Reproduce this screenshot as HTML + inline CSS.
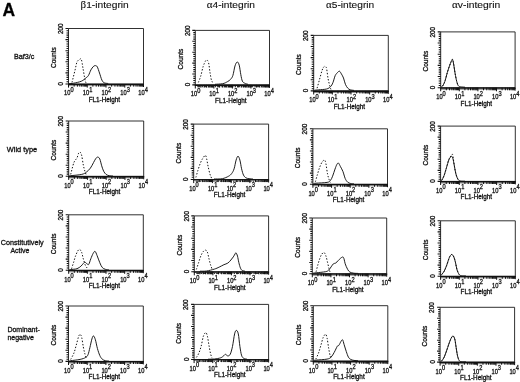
<!DOCTYPE html>
<html><head><meta charset="utf-8"><title>Figure A</title>
<style>html,body{margin:0;padding:0;background:#fff}body{width:520px;height:382px;overflow:hidden}svg{display:block}</style>
</head><body>
<svg width="520" height="382" viewBox="0 0 520 382" font-family='"Liberation Sans", sans-serif' fill="#111" stroke="#111" stroke-width="0.3" stroke-linejoin="round">
<rect x="0" y="0" width="520" height="382" fill="#fff" stroke="none"/>
<text x="2.5" y="15.7" font-size="18" font-weight="bold" fill="#000" textLength="12.6" lengthAdjust="spacingAndGlyphs">A</text>
<text x="80.6" y="8" font-size="9.9" stroke-width="0.12" textLength="48.2" lengthAdjust="spacingAndGlyphs"><tspan font-family="'Liberation Serif', 'DejaVu Serif', serif" font-size="10.6">β</tspan>1-integrin</text>
<text x="206.8" y="8" font-size="9.9" stroke-width="0.12" textLength="48.2" lengthAdjust="spacingAndGlyphs"><tspan font-family="'Liberation Serif', 'DejaVu Serif', serif" font-size="10.6">α</tspan>4-integrin</text>
<text x="326.0" y="8" font-size="9.9" stroke-width="0.12" textLength="48.2" lengthAdjust="spacingAndGlyphs"><tspan font-family="'Liberation Serif', 'DejaVu Serif', serif" font-size="10.6">α</tspan>5-integrin</text>
<text x="452.0" y="8" font-size="9.9" stroke-width="0.12" textLength="48.2" lengthAdjust="spacingAndGlyphs"><tspan font-family="'Liberation Serif', 'DejaVu Serif', serif" font-size="10.6">α</tspan>v-integrin</text>
<text x="14" y="58.8" font-size="7.2" textLength="20.4" lengthAdjust="spacingAndGlyphs">Baf3/c</text>
<text x="6.8" y="152.1" font-size="7.3" textLength="30.4" lengthAdjust="spacingAndGlyphs">Wild type</text>
<text x="0.8" y="245.3" font-size="7.2" textLength="42.8" lengthAdjust="spacingAndGlyphs">Constitutively</text>
<text x="10.4" y="252.8" font-size="7.2" textLength="19" lengthAdjust="spacingAndGlyphs">Active</text>
<text x="7.4" y="331.5" font-size="7.2" textLength="32.4" lengthAdjust="spacingAndGlyphs">Dominant-</text>
<text x="7.4" y="339.6" font-size="7.2" textLength="26.6" lengthAdjust="spacingAndGlyphs">negative</text>
<g>
<rect x="68.50" y="28.50" width="75.00" height="55.50" fill="none" stroke="#1a1a1a" stroke-width="0.9"/>
<path d="M68.50 28.50h-3.0M68.50 30.72h-2.0M68.50 32.94h-2.0M68.50 35.16h-2.0M68.50 37.38h-2.0M68.50 39.60h-3.0M68.50 41.82h-2.0M68.50 44.04h-2.0M68.50 46.26h-2.0M68.50 48.48h-2.0M68.50 50.70h-3.0M68.50 52.92h-2.0M68.50 55.14h-2.0M68.50 57.36h-2.0M68.50 59.58h-2.0M68.50 61.80h-3.0M68.50 64.02h-2.0M68.50 66.24h-2.0M68.50 68.46h-2.0M68.50 70.68h-2.0M68.50 72.90h-3.0M68.50 75.12h-2.0M68.50 77.34h-2.0M68.50 79.56h-2.0M68.50 81.78h-2.0M68.50 84.00h-3.0" stroke="#111" stroke-width="1.1" fill="none"/>
<path d="M68.50 84.00v3.6M74.14 84.00v2.6M77.45 84.00v2.6M79.79 84.00v2.6M81.61 84.00v2.6M83.09 84.00v2.6M84.35 84.00v2.6M85.43 84.00v2.6M86.39 84.00v2.6M87.25 84.00v3.6M92.89 84.00v2.6M96.20 84.00v2.6M98.54 84.00v2.6M100.36 84.00v2.6M101.84 84.00v2.6M103.10 84.00v2.6M104.18 84.00v2.6M105.14 84.00v2.6M106.00 84.00v3.6M111.64 84.00v2.6M114.95 84.00v2.6M117.29 84.00v2.6M119.11 84.00v2.6M120.59 84.00v2.6M121.85 84.00v2.6M122.93 84.00v2.6M123.89 84.00v2.6M124.75 84.00v3.6M130.39 84.00v2.6M133.70 84.00v2.6M136.04 84.00v2.6M137.86 84.00v2.6M139.34 84.00v2.6M140.60 84.00v2.6M141.68 84.00v2.6M142.64 84.00v2.6M143.50 84.00v3.0" stroke="#111" stroke-width="1.0" fill="none"/>
<path d="M68.00 84.40H144.00" stroke="#111" stroke-width="1.4" fill="none"/>
<path d="M68.50 85.60H143.50" stroke="#111" stroke-width="1.0" stroke-opacity="0.45" fill="none"/>
<path d="M72.00 82.40 C72.52 80.32 74.27 73.30 75.10 69.90 C75.93 66.50 76.20 63.78 77.00 62.00 C77.80 60.22 79.17 59.60 79.90 59.20 C80.63 58.80 80.88 58.08 81.40 59.60 C81.92 61.12 82.42 65.02 83.00 68.30 C83.58 71.58 84.40 76.85 84.90 79.30 C85.40 81.75 85.82 82.38 86.00 83.00" stroke="#111" stroke-width="1.0" fill="none" stroke-dasharray="1.4 1.7"/>
<path d="M69.00 83.60 C69.77 83.53 71.53 83.60 73.60 83.20 C75.67 82.80 79.30 82.12 81.40 81.20 C83.50 80.28 85.02 78.67 86.20 77.70 C87.38 76.73 87.72 76.70 88.50 75.40 C89.28 74.10 90.12 71.35 90.90 69.90 C91.68 68.45 92.50 67.42 93.20 66.70 C93.90 65.98 94.43 65.60 95.10 65.60 C95.77 65.60 96.47 65.47 97.20 66.70 C97.93 67.93 98.72 70.77 99.50 73.00 C100.28 75.23 101.12 78.47 101.90 80.10 C102.68 81.73 103.15 82.23 104.20 82.80 C105.25 83.37 107.53 83.38 108.20 83.50" stroke="#111" stroke-width="0.95" fill="none" stroke-linejoin="round"/>
<text transform="translate(62.70 28.80) rotate(-90)" text-anchor="middle" font-size="6.9" textLength="10.6" lengthAdjust="spacingAndGlyphs">200</text>
<text transform="translate(62.90 83.70) rotate(-90)" text-anchor="middle" font-size="6.9" textLength="3.5" lengthAdjust="spacingAndGlyphs">0</text>
<text transform="translate(55.80 57.65) rotate(-90)" text-anchor="middle" font-size="7.2" textLength="20.8" lengthAdjust="spacingAndGlyphs">Counts</text>
<text transform="translate(64.00 95.40) scale(0.87 1)" font-size="6.6">10<tspan dy="-3.6" font-size="6.5">0</tspan></text>
<text transform="translate(82.75 95.40) scale(0.87 1)" font-size="6.6">10<tspan dy="-3.6" font-size="6.5">1</tspan></text>
<text transform="translate(101.50 95.40) scale(0.87 1)" font-size="6.6">10<tspan dy="-3.6" font-size="6.5">2</tspan></text>
<text transform="translate(120.25 95.40) scale(0.87 1)" font-size="6.6">10<tspan dy="-3.6" font-size="6.5">3</tspan></text>
<text transform="translate(138.30 95.40) scale(0.87 1)" font-size="6.6">10<tspan dy="-3.6" font-size="6.5">4</tspan></text>
<text x="104.40" y="101.90" text-anchor="middle" font-size="6.6" textLength="31.5" lengthAdjust="spacingAndGlyphs">FL1-Height</text>
</g>
<g>
<rect x="195.30" y="30.40" width="74.20" height="54.50" fill="none" stroke="#1a1a1a" stroke-width="0.9"/>
<path d="M195.30 30.40h-3.0M195.30 32.58h-2.0M195.30 34.76h-2.0M195.30 36.94h-2.0M195.30 39.12h-2.0M195.30 41.30h-3.0M195.30 43.48h-2.0M195.30 45.66h-2.0M195.30 47.84h-2.0M195.30 50.02h-2.0M195.30 52.20h-3.0M195.30 54.38h-2.0M195.30 56.56h-2.0M195.30 58.74h-2.0M195.30 60.92h-2.0M195.30 63.10h-3.0M195.30 65.28h-2.0M195.30 67.46h-2.0M195.30 69.64h-2.0M195.30 71.82h-2.0M195.30 74.00h-3.0M195.30 76.18h-2.0M195.30 78.36h-2.0M195.30 80.54h-2.0M195.30 82.72h-2.0M195.30 84.90h-3.0" stroke="#111" stroke-width="1.1" fill="none"/>
<path d="M195.30 84.90v3.6M200.88 84.90v2.6M204.15 84.90v2.6M206.47 84.90v2.6M208.27 84.90v2.6M209.73 84.90v2.6M210.98 84.90v2.6M212.05 84.90v2.6M213.00 84.90v2.6M213.85 84.90v3.6M219.43 84.90v2.6M222.70 84.90v2.6M225.02 84.90v2.6M226.82 84.90v2.6M228.28 84.90v2.6M229.53 84.90v2.6M230.60 84.90v2.6M231.55 84.90v2.6M232.40 84.90v3.6M237.98 84.90v2.6M241.25 84.90v2.6M243.57 84.90v2.6M245.37 84.90v2.6M246.83 84.90v2.6M248.08 84.90v2.6M249.15 84.90v2.6M250.10 84.90v2.6M250.95 84.90v3.6M256.53 84.90v2.6M259.80 84.90v2.6M262.12 84.90v2.6M263.92 84.90v2.6M265.38 84.90v2.6M266.63 84.90v2.6M267.70 84.90v2.6M268.65 84.90v2.6M269.50 84.90v3.0" stroke="#111" stroke-width="1.0" fill="none"/>
<path d="M194.80 85.30H270.00" stroke="#111" stroke-width="1.4" fill="none"/>
<path d="M197.30 86.60H269.50" stroke="#111" stroke-width="1.1" stroke-opacity="0.85" stroke-dasharray="3.2 1.1 1.4 0.9" fill="none"/>
<path d="M198.40 82.40 C198.78 81.37 199.92 78.82 200.70 76.20 C201.48 73.58 202.32 69.20 203.10 66.70 C203.88 64.20 204.75 62.30 205.40 61.20 C206.05 60.10 206.47 59.83 207.00 60.10 C207.53 60.37 208.08 60.65 208.60 62.80 C209.12 64.95 209.58 69.98 210.10 73.00 C210.62 76.02 211.03 79.20 211.70 80.90 C212.37 82.60 213.70 82.82 214.10 83.20" stroke="#111" stroke-width="1.0" fill="none" stroke-dasharray="1.4 1.7"/>
<path d="M215.00 84.30 C216.28 84.20 220.63 84.13 222.70 83.70 C224.77 83.27 226.08 82.43 227.40 81.70 C228.72 80.97 229.68 80.35 230.60 79.30 C231.52 78.25 232.17 77.63 232.90 75.40 C233.63 73.17 234.28 68.13 235.00 65.90 C235.72 63.67 236.50 62.13 237.20 62.00 C237.90 61.87 238.60 63.00 239.20 65.10 C239.80 67.20 240.27 71.92 240.80 74.60 C241.33 77.28 241.75 79.77 242.40 81.20 C243.05 82.63 243.77 82.68 244.70 83.20 C245.63 83.72 247.45 84.12 248.00 84.30" stroke="#111" stroke-width="0.95" fill="none" stroke-linejoin="round"/>
<text transform="translate(189.50 30.70) rotate(-90)" text-anchor="middle" font-size="6.9" textLength="10.6" lengthAdjust="spacingAndGlyphs">200</text>
<text transform="translate(189.70 84.60) rotate(-90)" text-anchor="middle" font-size="6.9" textLength="3.5" lengthAdjust="spacingAndGlyphs">0</text>
<text transform="translate(182.60 59.05) rotate(-90)" text-anchor="middle" font-size="7.2" textLength="20.8" lengthAdjust="spacingAndGlyphs">Counts</text>
<text transform="translate(190.80 96.30) scale(0.87 1)" font-size="6.6">10<tspan dy="-3.6" font-size="6.5">0</tspan></text>
<text transform="translate(209.35 96.30) scale(0.87 1)" font-size="6.6">10<tspan dy="-3.6" font-size="6.5">1</tspan></text>
<text transform="translate(227.90 96.30) scale(0.87 1)" font-size="6.6">10<tspan dy="-3.6" font-size="6.5">2</tspan></text>
<text transform="translate(246.45 96.30) scale(0.87 1)" font-size="6.6">10<tspan dy="-3.6" font-size="6.5">3</tspan></text>
<text transform="translate(264.30 96.30) scale(0.87 1)" font-size="6.6">10<tspan dy="-3.6" font-size="6.5">4</tspan></text>
<text x="230.80" y="102.80" text-anchor="middle" font-size="6.6" textLength="31.5" lengthAdjust="spacingAndGlyphs">FL1-Height</text>
</g>
<g>
<rect x="313.70" y="35.40" width="74.60" height="55.50" fill="none" stroke="#1a1a1a" stroke-width="0.9"/>
<path d="M313.70 35.40h-3.0M313.70 37.62h-2.0M313.70 39.84h-2.0M313.70 42.06h-2.0M313.70 44.28h-2.0M313.70 46.50h-3.0M313.70 48.72h-2.0M313.70 50.94h-2.0M313.70 53.16h-2.0M313.70 55.38h-2.0M313.70 57.60h-3.0M313.70 59.82h-2.0M313.70 62.04h-2.0M313.70 64.26h-2.0M313.70 66.48h-2.0M313.70 68.70h-3.0M313.70 70.92h-2.0M313.70 73.14h-2.0M313.70 75.36h-2.0M313.70 77.58h-2.0M313.70 79.80h-3.0M313.70 82.02h-2.0M313.70 84.24h-2.0M313.70 86.46h-2.0M313.70 88.68h-2.0M313.70 90.90h-3.0" stroke="#111" stroke-width="1.1" fill="none"/>
<path d="M313.70 90.90v3.6M319.31 90.90v2.6M322.60 90.90v2.6M324.93 90.90v2.6M326.74 90.90v2.6M328.21 90.90v2.6M329.46 90.90v2.6M330.54 90.90v2.6M331.50 90.90v2.6M332.35 90.90v3.6M337.96 90.90v2.6M341.25 90.90v2.6M343.58 90.90v2.6M345.39 90.90v2.6M346.86 90.90v2.6M348.11 90.90v2.6M349.19 90.90v2.6M350.15 90.90v2.6M351.00 90.90v3.6M356.61 90.90v2.6M359.90 90.90v2.6M362.23 90.90v2.6M364.04 90.90v2.6M365.51 90.90v2.6M366.76 90.90v2.6M367.84 90.90v2.6M368.80 90.90v2.6M369.65 90.90v3.6M375.26 90.90v2.6M378.55 90.90v2.6M380.88 90.90v2.6M382.69 90.90v2.6M384.16 90.90v2.6M385.41 90.90v2.6M386.49 90.90v2.6M387.45 90.90v2.6M388.30 90.90v3.0" stroke="#111" stroke-width="1.0" fill="none"/>
<path d="M313.20 91.30H388.80" stroke="#111" stroke-width="1.4" fill="none"/>
<path d="M313.70 92.50H388.30" stroke="#111" stroke-width="1.0" stroke-opacity="0.45" fill="none"/>
<path d="M317.10 88.20 C317.50 86.77 318.70 82.48 319.50 79.60 C320.30 76.72 321.20 73.00 321.90 70.90 C322.60 68.80 323.13 67.73 323.70 67.00 C324.27 66.27 324.82 66.23 325.30 66.50 C325.78 66.77 326.13 66.55 326.60 68.60 C327.07 70.65 327.53 75.78 328.10 78.80 C328.67 81.82 329.52 84.92 330.00 86.70 C330.48 88.48 330.83 89.03 331.00 89.50" stroke="#111" stroke-width="1.0" fill="none" stroke-dasharray="1.4 1.7"/>
<path d="M314.50 90.20 C315.20 90.13 316.68 90.00 318.70 89.80 C320.72 89.60 324.63 89.52 326.60 89.00 C328.57 88.48 329.45 87.75 330.50 86.70 C331.55 85.65 332.12 84.55 332.90 82.70 C333.68 80.85 334.42 77.30 335.20 75.60 C335.98 73.90 336.88 73.23 337.60 72.50 C338.32 71.77 338.85 70.93 339.50 71.20 C340.15 71.47 340.83 72.97 341.50 74.10 C342.17 75.23 342.85 76.30 343.50 78.00 C344.15 79.70 344.68 82.60 345.40 84.30 C346.12 86.00 347.00 87.28 347.80 88.20 C348.60 89.12 349.17 89.43 350.20 89.80 C351.23 90.17 353.37 90.30 354.00 90.40" stroke="#111" stroke-width="0.95" fill="none" stroke-linejoin="round"/>
<text transform="translate(307.90 35.70) rotate(-90)" text-anchor="middle" font-size="6.9" textLength="10.6" lengthAdjust="spacingAndGlyphs">200</text>
<text transform="translate(308.10 90.60) rotate(-90)" text-anchor="middle" font-size="6.9" textLength="3.5" lengthAdjust="spacingAndGlyphs">0</text>
<text transform="translate(301.00 64.55) rotate(-90)" text-anchor="middle" font-size="7.2" textLength="20.8" lengthAdjust="spacingAndGlyphs">Counts</text>
<text transform="translate(309.20 102.30) scale(0.87 1)" font-size="6.6">10<tspan dy="-3.6" font-size="6.5">0</tspan></text>
<text transform="translate(327.85 102.30) scale(0.87 1)" font-size="6.6">10<tspan dy="-3.6" font-size="6.5">1</tspan></text>
<text transform="translate(346.50 102.30) scale(0.87 1)" font-size="6.6">10<tspan dy="-3.6" font-size="6.5">2</tspan></text>
<text transform="translate(365.15 102.30) scale(0.87 1)" font-size="6.6">10<tspan dy="-3.6" font-size="6.5">3</tspan></text>
<text transform="translate(383.10 102.30) scale(0.87 1)" font-size="6.6">10<tspan dy="-3.6" font-size="6.5">4</tspan></text>
<text x="349.40" y="108.80" text-anchor="middle" font-size="6.6" textLength="31.5" lengthAdjust="spacingAndGlyphs">FL1-Height</text>
</g>
<g>
<rect x="440.70" y="31.90" width="74.40" height="55.80" fill="none" stroke="#1a1a1a" stroke-width="0.9"/>
<path d="M440.70 31.90h-3.0M440.70 34.13h-2.0M440.70 36.36h-2.0M440.70 38.60h-2.0M440.70 40.83h-2.0M440.70 43.06h-3.0M440.70 45.29h-2.0M440.70 47.52h-2.0M440.70 49.76h-2.0M440.70 51.99h-2.0M440.70 54.22h-3.0M440.70 56.45h-2.0M440.70 58.68h-2.0M440.70 60.92h-2.0M440.70 63.15h-2.0M440.70 65.38h-3.0M440.70 67.61h-2.0M440.70 69.84h-2.0M440.70 72.08h-2.0M440.70 74.31h-2.0M440.70 76.54h-3.0M440.70 78.77h-2.0M440.70 81.00h-2.0M440.70 83.24h-2.0M440.70 85.47h-2.0M440.70 87.70h-3.0" stroke="#111" stroke-width="1.1" fill="none"/>
<path d="M440.70 87.70v3.6M446.30 87.70v2.6M449.57 87.70v2.6M451.90 87.70v2.6M453.70 87.70v2.6M455.17 87.70v2.6M456.42 87.70v2.6M457.50 87.70v2.6M458.45 87.70v2.6M459.30 87.70v3.6M464.90 87.70v2.6M468.17 87.70v2.6M470.50 87.70v2.6M472.30 87.70v2.6M473.77 87.70v2.6M475.02 87.70v2.6M476.10 87.70v2.6M477.05 87.70v2.6M477.90 87.70v3.6M483.50 87.70v2.6M486.77 87.70v2.6M489.10 87.70v2.6M490.90 87.70v2.6M492.37 87.70v2.6M493.62 87.70v2.6M494.70 87.70v2.6M495.65 87.70v2.6M496.50 87.70v3.6M502.10 87.70v2.6M505.37 87.70v2.6M507.70 87.70v2.6M509.50 87.70v2.6M510.97 87.70v2.6M512.22 87.70v2.6M513.30 87.70v2.6M514.25 87.70v2.6M515.10 87.70v3.0" stroke="#111" stroke-width="1.0" fill="none"/>
<path d="M440.20 88.10H515.60" stroke="#111" stroke-width="1.4" fill="none"/>
<path d="M440.70 89.30H515.10" stroke="#111" stroke-width="1.0" stroke-opacity="0.45" fill="none"/>
<path d="M442.60 86.00 C442.98 85.22 444.12 83.53 444.90 81.30 C445.68 79.07 446.52 75.22 447.30 72.60 C448.08 69.98 448.95 67.43 449.60 65.60 C450.25 63.77 450.72 62.67 451.20 61.60 C451.68 60.53 452.10 58.88 452.50 59.20 C452.90 59.52 453.17 61.13 453.60 63.50 C454.03 65.87 454.58 70.43 455.10 73.40 C455.62 76.37 456.17 79.25 456.70 81.30 C457.23 83.35 458.03 84.97 458.30 85.70" stroke="#111" stroke-width="1.0" fill="none" stroke-dasharray="1.4 1.7"/>
<path d="M441.20 87.00 C441.43 86.83 441.98 86.95 442.60 86.00 C443.22 85.05 444.12 83.53 444.90 81.30 C445.68 79.07 446.52 75.22 447.30 72.60 C448.08 69.98 448.95 67.43 449.60 65.60 C450.25 63.77 450.72 62.60 451.20 61.60 C451.68 60.60 452.10 59.20 452.50 59.60 C452.90 60.00 453.17 61.70 453.60 64.00 C454.03 66.30 454.58 70.52 455.10 73.40 C455.62 76.28 456.17 79.25 456.70 81.30 C457.23 83.35 457.65 84.78 458.30 85.70 C458.95 86.62 459.48 86.55 460.60 86.80 C461.72 87.05 464.27 87.13 465.00 87.20" stroke="#111" stroke-width="0.95" fill="none" stroke-linejoin="round"/>
<text transform="translate(434.90 32.20) rotate(-90)" text-anchor="middle" font-size="6.9" textLength="10.6" lengthAdjust="spacingAndGlyphs">200</text>
<text transform="translate(435.10 87.40) rotate(-90)" text-anchor="middle" font-size="6.9" textLength="3.5" lengthAdjust="spacingAndGlyphs">0</text>
<text transform="translate(428.00 61.20) rotate(-90)" text-anchor="middle" font-size="7.2" textLength="20.8" lengthAdjust="spacingAndGlyphs">Counts</text>
<text transform="translate(436.20 99.10) scale(0.87 1)" font-size="6.6">10<tspan dy="-3.6" font-size="6.5">0</tspan></text>
<text transform="translate(454.80 99.10) scale(0.87 1)" font-size="6.6">10<tspan dy="-3.6" font-size="6.5">1</tspan></text>
<text transform="translate(473.40 99.10) scale(0.87 1)" font-size="6.6">10<tspan dy="-3.6" font-size="6.5">2</tspan></text>
<text transform="translate(492.00 99.10) scale(0.87 1)" font-size="6.6">10<tspan dy="-3.6" font-size="6.5">3</tspan></text>
<text transform="translate(509.90 99.10) scale(0.87 1)" font-size="6.6">10<tspan dy="-3.6" font-size="6.5">4</tspan></text>
<text x="476.30" y="105.60" text-anchor="middle" font-size="6.6" textLength="31.5" lengthAdjust="spacingAndGlyphs">FL1-Height</text>
</g>
<g>
<rect x="68.70" y="121.00" width="75.00" height="55.30" fill="none" stroke="#1a1a1a" stroke-width="0.9"/>
<path d="M68.70 121.00h-3.0M68.70 123.21h-2.0M68.70 125.42h-2.0M68.70 127.64h-2.0M68.70 129.85h-2.0M68.70 132.06h-3.0M68.70 134.27h-2.0M68.70 136.48h-2.0M68.70 138.70h-2.0M68.70 140.91h-2.0M68.70 143.12h-3.0M68.70 145.33h-2.0M68.70 147.54h-2.0M68.70 149.76h-2.0M68.70 151.97h-2.0M68.70 154.18h-3.0M68.70 156.39h-2.0M68.70 158.60h-2.0M68.70 160.82h-2.0M68.70 163.03h-2.0M68.70 165.24h-3.0M68.70 167.45h-2.0M68.70 169.66h-2.0M68.70 171.88h-2.0M68.70 174.09h-2.0M68.70 176.30h-3.0" stroke="#111" stroke-width="1.1" fill="none"/>
<path d="M68.70 176.30v3.6M74.34 176.30v2.6M77.65 176.30v2.6M79.99 176.30v2.6M81.81 176.30v2.6M83.29 176.30v2.6M84.55 176.30v2.6M85.63 176.30v2.6M86.59 176.30v2.6M87.45 176.30v3.6M93.09 176.30v2.6M96.40 176.30v2.6M98.74 176.30v2.6M100.56 176.30v2.6M102.04 176.30v2.6M103.30 176.30v2.6M104.38 176.30v2.6M105.34 176.30v2.6M106.20 176.30v3.6M111.84 176.30v2.6M115.15 176.30v2.6M117.49 176.30v2.6M119.31 176.30v2.6M120.79 176.30v2.6M122.05 176.30v2.6M123.13 176.30v2.6M124.09 176.30v2.6M124.95 176.30v3.6M130.59 176.30v2.6M133.90 176.30v2.6M136.24 176.30v2.6M138.06 176.30v2.6M139.54 176.30v2.6M140.80 176.30v2.6M141.88 176.30v2.6M142.84 176.30v2.6M143.70 176.30v3.0" stroke="#111" stroke-width="1.0" fill="none"/>
<path d="M68.20 176.70H144.20" stroke="#111" stroke-width="1.4" fill="none"/>
<path d="M68.70 177.90H143.70" stroke="#111" stroke-width="1.0" stroke-opacity="0.45" fill="none"/>
<path d="M70.70 174.40 C71.10 172.83 72.45 167.22 73.10 165.00 C73.75 162.78 73.95 162.28 74.60 161.10 C75.25 159.92 76.33 159.22 77.00 157.90 C77.67 156.58 78.08 154.17 78.60 153.20 C79.12 152.23 79.58 151.70 80.10 152.10 C80.62 152.50 81.17 153.45 81.70 155.60 C82.23 157.75 82.77 162.38 83.30 165.00 C83.83 167.62 84.40 169.63 84.90 171.30 C85.40 172.97 86.07 174.38 86.30 175.00" stroke="#111" stroke-width="1.0" fill="none" stroke-dasharray="1.4 1.7"/>
<path d="M69.30 175.90 C69.53 175.87 68.63 175.95 70.70 175.70 C72.77 175.45 79.08 175.00 81.70 174.40 C84.32 173.80 84.95 173.15 86.40 172.10 C87.85 171.05 89.22 169.68 90.40 168.10 C91.58 166.52 92.58 164.22 93.50 162.60 C94.42 160.98 95.18 159.32 95.90 158.40 C96.62 157.48 97.15 157.00 97.80 157.10 C98.45 157.20 99.15 157.55 99.80 159.00 C100.45 160.45 101.05 163.75 101.70 165.80 C102.35 167.85 102.97 169.87 103.70 171.30 C104.43 172.73 105.18 173.67 106.10 174.40 C107.02 175.13 108.05 175.43 109.20 175.70 C110.35 175.97 112.37 175.95 113.00 176.00" stroke="#111" stroke-width="0.95" fill="none" stroke-linejoin="round"/>
<text transform="translate(62.90 121.30) rotate(-90)" text-anchor="middle" font-size="6.9" textLength="10.6" lengthAdjust="spacingAndGlyphs">200</text>
<text transform="translate(63.10 176.00) rotate(-90)" text-anchor="middle" font-size="6.9" textLength="3.5" lengthAdjust="spacingAndGlyphs">0</text>
<text transform="translate(56.00 150.05) rotate(-90)" text-anchor="middle" font-size="7.2" textLength="20.8" lengthAdjust="spacingAndGlyphs">Counts</text>
<text transform="translate(64.20 187.70) scale(0.87 1)" font-size="6.6">10<tspan dy="-3.6" font-size="6.5">0</tspan></text>
<text transform="translate(82.95 187.70) scale(0.87 1)" font-size="6.6">10<tspan dy="-3.6" font-size="6.5">1</tspan></text>
<text transform="translate(101.70 187.70) scale(0.87 1)" font-size="6.6">10<tspan dy="-3.6" font-size="6.5">2</tspan></text>
<text transform="translate(120.45 187.70) scale(0.87 1)" font-size="6.6">10<tspan dy="-3.6" font-size="6.5">3</tspan></text>
<text transform="translate(138.50 187.70) scale(0.87 1)" font-size="6.6">10<tspan dy="-3.6" font-size="6.5">4</tspan></text>
<text x="104.60" y="194.20" text-anchor="middle" font-size="6.6" textLength="31.5" lengthAdjust="spacingAndGlyphs">FL1-Height</text>
</g>
<g>
<rect x="193.70" y="124.10" width="74.90" height="55.40" fill="none" stroke="#1a1a1a" stroke-width="0.9"/>
<path d="M193.70 124.10h-3.0M193.70 126.32h-2.0M193.70 128.53h-2.0M193.70 130.75h-2.0M193.70 132.96h-2.0M193.70 135.18h-3.0M193.70 137.40h-2.0M193.70 139.61h-2.0M193.70 141.83h-2.0M193.70 144.04h-2.0M193.70 146.26h-3.0M193.70 148.48h-2.0M193.70 150.69h-2.0M193.70 152.91h-2.0M193.70 155.12h-2.0M193.70 157.34h-3.0M193.70 159.56h-2.0M193.70 161.77h-2.0M193.70 163.99h-2.0M193.70 166.20h-2.0M193.70 168.42h-3.0M193.70 170.64h-2.0M193.70 172.85h-2.0M193.70 175.07h-2.0M193.70 177.28h-2.0M193.70 179.50h-3.0" stroke="#111" stroke-width="1.1" fill="none"/>
<path d="M193.70 179.50v3.6M199.34 179.50v2.6M202.63 179.50v2.6M204.97 179.50v2.6M206.79 179.50v2.6M208.27 179.50v2.6M209.52 179.50v2.6M210.61 179.50v2.6M211.57 179.50v2.6M212.43 179.50v3.6M218.06 179.50v2.6M221.36 179.50v2.6M223.70 179.50v2.6M225.51 179.50v2.6M227.00 179.50v2.6M228.25 179.50v2.6M229.34 179.50v2.6M230.29 179.50v2.6M231.15 179.50v3.6M236.79 179.50v2.6M240.08 179.50v2.6M242.42 179.50v2.6M244.24 179.50v2.6M245.72 179.50v2.6M246.97 179.50v2.6M248.06 179.50v2.6M249.02 179.50v2.6M249.88 179.50v3.6M255.51 179.50v2.6M258.81 179.50v2.6M261.15 179.50v2.6M262.96 179.50v2.6M264.45 179.50v2.6M265.70 179.50v2.6M266.79 179.50v2.6M267.74 179.50v2.6M268.60 179.50v3.0" stroke="#111" stroke-width="1.0" fill="none"/>
<path d="M193.20 179.90H269.10" stroke="#111" stroke-width="1.4" fill="none"/>
<path d="M195.70 181.20H268.60" stroke="#111" stroke-width="1.1" stroke-opacity="0.85" stroke-dasharray="3.2 1.1 1.4 0.9" fill="none"/>
<path d="M195.90 177.40 C196.23 176.23 197.17 172.75 197.90 170.40 C198.63 168.05 199.52 165.27 200.30 163.30 C201.08 161.33 201.77 159.92 202.60 158.60 C203.43 157.28 204.63 155.40 205.30 155.40 C205.97 155.40 206.13 156.77 206.60 158.60 C207.07 160.43 207.53 163.78 208.10 166.40 C208.67 169.02 209.42 172.33 210.00 174.30 C210.58 176.27 211.33 177.55 211.60 178.20" stroke="#111" stroke-width="1.0" fill="none" stroke-dasharray="1.4 1.7"/>
<path d="M214.00 179.00 C215.38 178.95 219.87 179.17 222.30 178.70 C224.73 178.23 227.03 177.07 228.60 176.20 C230.17 175.33 230.78 174.73 231.70 173.50 C232.62 172.27 233.37 171.03 234.10 168.80 C234.83 166.57 235.45 162.20 236.10 160.10 C236.75 158.00 237.37 156.20 238.00 156.20 C238.63 156.20 239.30 158.00 239.90 160.10 C240.50 162.20 241.00 166.30 241.60 168.80 C242.20 171.30 242.78 173.60 243.50 175.10 C244.22 176.60 244.98 177.20 245.90 177.80 C246.82 178.40 247.82 178.50 249.00 178.70 C250.18 178.90 252.33 178.95 253.00 179.00" stroke="#111" stroke-width="0.95" fill="none" stroke-linejoin="round"/>
<text transform="translate(187.90 124.40) rotate(-90)" text-anchor="middle" font-size="6.9" textLength="10.6" lengthAdjust="spacingAndGlyphs">200</text>
<text transform="translate(188.10 179.20) rotate(-90)" text-anchor="middle" font-size="6.9" textLength="3.5" lengthAdjust="spacingAndGlyphs">0</text>
<text transform="translate(181.00 153.20) rotate(-90)" text-anchor="middle" font-size="7.2" textLength="20.8" lengthAdjust="spacingAndGlyphs">Counts</text>
<text transform="translate(189.20 190.90) scale(0.87 1)" font-size="6.6">10<tspan dy="-3.6" font-size="6.5">0</tspan></text>
<text transform="translate(207.93 190.90) scale(0.87 1)" font-size="6.6">10<tspan dy="-3.6" font-size="6.5">1</tspan></text>
<text transform="translate(226.65 190.90) scale(0.87 1)" font-size="6.6">10<tspan dy="-3.6" font-size="6.5">2</tspan></text>
<text transform="translate(245.38 190.90) scale(0.87 1)" font-size="6.6">10<tspan dy="-3.6" font-size="6.5">3</tspan></text>
<text transform="translate(263.40 190.90) scale(0.87 1)" font-size="6.6">10<tspan dy="-3.6" font-size="6.5">4</tspan></text>
<text x="229.55" y="197.40" text-anchor="middle" font-size="6.6" textLength="31.5" lengthAdjust="spacingAndGlyphs">FL1-Height</text>
</g>
<g>
<rect x="312.90" y="128.80" width="74.60" height="55.40" fill="none" stroke="#1a1a1a" stroke-width="0.9"/>
<path d="M312.90 128.80h-3.0M312.90 131.02h-2.0M312.90 133.23h-2.0M312.90 135.45h-2.0M312.90 137.66h-2.0M312.90 139.88h-3.0M312.90 142.10h-2.0M312.90 144.31h-2.0M312.90 146.53h-2.0M312.90 148.74h-2.0M312.90 150.96h-3.0M312.90 153.18h-2.0M312.90 155.39h-2.0M312.90 157.61h-2.0M312.90 159.82h-2.0M312.90 162.04h-3.0M312.90 164.26h-2.0M312.90 166.47h-2.0M312.90 168.69h-2.0M312.90 170.90h-2.0M312.90 173.12h-3.0M312.90 175.34h-2.0M312.90 177.55h-2.0M312.90 179.77h-2.0M312.90 181.98h-2.0M312.90 184.20h-3.0" stroke="#111" stroke-width="1.1" fill="none"/>
<path d="M312.90 184.20v3.6M318.51 184.20v2.6M321.80 184.20v2.6M324.13 184.20v2.6M325.94 184.20v2.6M327.41 184.20v2.6M328.66 184.20v2.6M329.74 184.20v2.6M330.70 184.20v2.6M331.55 184.20v3.6M337.16 184.20v2.6M340.45 184.20v2.6M342.78 184.20v2.6M344.59 184.20v2.6M346.06 184.20v2.6M347.31 184.20v2.6M348.39 184.20v2.6M349.35 184.20v2.6M350.20 184.20v3.6M355.81 184.20v2.6M359.10 184.20v2.6M361.43 184.20v2.6M363.24 184.20v2.6M364.71 184.20v2.6M365.96 184.20v2.6M367.04 184.20v2.6M368.00 184.20v2.6M368.85 184.20v3.6M374.46 184.20v2.6M377.75 184.20v2.6M380.08 184.20v2.6M381.89 184.20v2.6M383.36 184.20v2.6M384.61 184.20v2.6M385.69 184.20v2.6M386.65 184.20v2.6M387.50 184.20v3.0" stroke="#111" stroke-width="1.0" fill="none"/>
<path d="M312.40 184.60H388.00" stroke="#111" stroke-width="1.4" fill="none"/>
<path d="M312.90 185.80H387.50" stroke="#111" stroke-width="1.0" stroke-opacity="0.45" fill="none"/>
<path d="M315.40 181.70 C315.73 180.52 316.70 176.97 317.40 174.60 C318.10 172.23 318.82 169.60 319.60 167.50 C320.38 165.40 321.28 163.23 322.10 162.00 C322.92 160.77 323.87 159.83 324.50 160.10 C325.13 160.37 325.40 161.32 325.90 163.60 C326.40 165.88 326.98 171.18 327.50 173.80 C328.02 176.42 328.53 177.87 329.00 179.30 C329.47 180.73 330.08 181.88 330.30 182.40" stroke="#111" stroke-width="1.0" fill="none" stroke-dasharray="1.4 1.7"/>
<path d="M313.50 183.50 C313.93 183.45 313.83 183.38 316.10 183.20 C318.37 183.02 324.73 182.83 327.10 182.40 C329.47 181.97 329.38 181.63 330.30 180.60 C331.22 179.57 331.82 178.12 332.60 176.20 C333.38 174.28 334.28 171.07 335.00 169.10 C335.72 167.13 336.32 165.40 336.90 164.40 C337.48 163.40 337.90 162.72 338.50 163.10 C339.10 163.48 339.77 165.32 340.50 166.70 C341.23 168.08 342.12 169.43 342.90 171.40 C343.68 173.37 344.42 176.72 345.20 178.50 C345.98 180.28 346.68 181.27 347.60 182.10 C348.52 182.93 349.63 183.22 350.70 183.50 C351.77 183.78 353.45 183.75 354.00 183.80" stroke="#111" stroke-width="0.95" fill="none" stroke-linejoin="round"/>
<text transform="translate(307.10 129.10) rotate(-90)" text-anchor="middle" font-size="6.9" textLength="10.6" lengthAdjust="spacingAndGlyphs">200</text>
<text transform="translate(307.30 183.90) rotate(-90)" text-anchor="middle" font-size="6.9" textLength="3.5" lengthAdjust="spacingAndGlyphs">0</text>
<text transform="translate(300.20 157.90) rotate(-90)" text-anchor="middle" font-size="7.2" textLength="20.8" lengthAdjust="spacingAndGlyphs">Counts</text>
<text transform="translate(308.40 195.60) scale(0.87 1)" font-size="6.6">10<tspan dy="-3.6" font-size="6.5">0</tspan></text>
<text transform="translate(327.05 195.60) scale(0.87 1)" font-size="6.6">10<tspan dy="-3.6" font-size="6.5">1</tspan></text>
<text transform="translate(345.70 195.60) scale(0.87 1)" font-size="6.6">10<tspan dy="-3.6" font-size="6.5">2</tspan></text>
<text transform="translate(364.35 195.60) scale(0.87 1)" font-size="6.6">10<tspan dy="-3.6" font-size="6.5">3</tspan></text>
<text transform="translate(382.30 195.60) scale(0.87 1)" font-size="6.6">10<tspan dy="-3.6" font-size="6.5">4</tspan></text>
<text x="348.60" y="202.10" text-anchor="middle" font-size="6.6" textLength="31.5" lengthAdjust="spacingAndGlyphs">FL1-Height</text>
</g>
<g>
<rect x="440.60" y="126.10" width="74.70" height="55.30" fill="none" stroke="#1a1a1a" stroke-width="0.9"/>
<path d="M440.60 126.10h-3.0M440.60 128.31h-2.0M440.60 130.52h-2.0M440.60 132.74h-2.0M440.60 134.95h-2.0M440.60 137.16h-3.0M440.60 139.37h-2.0M440.60 141.58h-2.0M440.60 143.80h-2.0M440.60 146.01h-2.0M440.60 148.22h-3.0M440.60 150.43h-2.0M440.60 152.64h-2.0M440.60 154.86h-2.0M440.60 157.07h-2.0M440.60 159.28h-3.0M440.60 161.49h-2.0M440.60 163.70h-2.0M440.60 165.92h-2.0M440.60 168.13h-2.0M440.60 170.34h-3.0M440.60 172.55h-2.0M440.60 174.76h-2.0M440.60 176.98h-2.0M440.60 179.19h-2.0M440.60 181.40h-3.0" stroke="#111" stroke-width="1.1" fill="none"/>
<path d="M440.60 181.40v3.6M446.22 181.40v2.6M449.51 181.40v2.6M451.84 181.40v2.6M453.65 181.40v2.6M455.13 181.40v2.6M456.38 181.40v2.6M457.47 181.40v2.6M458.42 181.40v2.6M459.27 181.40v3.6M464.90 181.40v2.6M468.19 181.40v2.6M470.52 181.40v2.6M472.33 181.40v2.6M473.81 181.40v2.6M475.06 181.40v2.6M476.14 181.40v2.6M477.10 181.40v2.6M477.95 181.40v3.6M483.57 181.40v2.6M486.86 181.40v2.6M489.19 181.40v2.6M491.00 181.40v2.6M492.48 181.40v2.6M493.73 181.40v2.6M494.82 181.40v2.6M495.77 181.40v2.6M496.62 181.40v3.6M502.25 181.40v2.6M505.54 181.40v2.6M507.87 181.40v2.6M509.68 181.40v2.6M511.16 181.40v2.6M512.41 181.40v2.6M513.49 181.40v2.6M514.45 181.40v2.6M515.30 181.40v3.0" stroke="#111" stroke-width="1.0" fill="none"/>
<path d="M440.10 181.80H515.80" stroke="#111" stroke-width="1.4" fill="none"/>
<path d="M440.60 183.00H515.30" stroke="#111" stroke-width="1.0" stroke-opacity="0.45" fill="none"/>
<path d="M441.80 180.20 C442.18 179.42 443.32 177.60 444.10 175.50 C444.88 173.40 445.70 170.30 446.50 167.60 C447.30 164.90 448.12 161.30 448.90 159.30 C449.68 157.30 450.60 156.45 451.20 155.60 C451.80 154.75 452.17 153.80 452.50 154.20 C452.83 154.60 452.88 156.02 453.20 158.00 C453.52 159.98 453.95 163.45 454.40 166.10 C454.85 168.75 455.30 171.68 455.90 173.90 C456.50 176.12 457.65 178.48 458.00 179.40" stroke="#111" stroke-width="1.0" fill="none" stroke-dasharray="1.4 1.7"/>
<path d="M441.00 180.90 C441.13 180.78 441.28 181.10 441.80 180.20 C442.32 179.30 443.32 177.60 444.10 175.50 C444.88 173.40 445.70 170.22 446.50 167.60 C447.30 164.98 448.12 161.63 448.90 159.80 C449.68 157.97 450.55 156.87 451.20 156.60 C451.85 156.33 452.27 156.62 452.80 158.20 C453.33 159.78 453.88 163.48 454.40 166.10 C454.92 168.72 455.30 171.68 455.90 173.90 C456.50 176.12 457.22 178.22 458.00 179.40 C458.78 180.58 459.43 180.70 460.60 181.00 C461.77 181.30 464.27 181.17 465.00 181.20" stroke="#111" stroke-width="0.95" fill="none" stroke-linejoin="round"/>
<text transform="translate(434.80 126.40) rotate(-90)" text-anchor="middle" font-size="6.9" textLength="10.6" lengthAdjust="spacingAndGlyphs">200</text>
<text transform="translate(435.00 181.10) rotate(-90)" text-anchor="middle" font-size="6.9" textLength="3.5" lengthAdjust="spacingAndGlyphs">0</text>
<text transform="translate(427.90 155.15) rotate(-90)" text-anchor="middle" font-size="7.2" textLength="20.8" lengthAdjust="spacingAndGlyphs">Counts</text>
<text transform="translate(436.10 192.80) scale(0.87 1)" font-size="6.6">10<tspan dy="-3.6" font-size="6.5">0</tspan></text>
<text transform="translate(454.77 192.80) scale(0.87 1)" font-size="6.6">10<tspan dy="-3.6" font-size="6.5">1</tspan></text>
<text transform="translate(473.45 192.80) scale(0.87 1)" font-size="6.6">10<tspan dy="-3.6" font-size="6.5">2</tspan></text>
<text transform="translate(492.12 192.80) scale(0.87 1)" font-size="6.6">10<tspan dy="-3.6" font-size="6.5">3</tspan></text>
<text transform="translate(510.10 192.80) scale(0.87 1)" font-size="6.6">10<tspan dy="-3.6" font-size="6.5">4</tspan></text>
<text x="476.35" y="199.30" text-anchor="middle" font-size="6.6" textLength="31.5" lengthAdjust="spacingAndGlyphs">FL1-Height</text>
</g>
<g>
<rect x="68.70" y="214.80" width="74.60" height="55.40" fill="none" stroke="#1a1a1a" stroke-width="0.9"/>
<path d="M68.70 214.80h-3.0M68.70 217.02h-2.0M68.70 219.23h-2.0M68.70 221.45h-2.0M68.70 223.66h-2.0M68.70 225.88h-3.0M68.70 228.10h-2.0M68.70 230.31h-2.0M68.70 232.53h-2.0M68.70 234.74h-2.0M68.70 236.96h-3.0M68.70 239.18h-2.0M68.70 241.39h-2.0M68.70 243.61h-2.0M68.70 245.82h-2.0M68.70 248.04h-3.0M68.70 250.26h-2.0M68.70 252.47h-2.0M68.70 254.69h-2.0M68.70 256.90h-2.0M68.70 259.12h-3.0M68.70 261.34h-2.0M68.70 263.55h-2.0M68.70 265.77h-2.0M68.70 267.98h-2.0M68.70 270.20h-3.0" stroke="#111" stroke-width="1.1" fill="none"/>
<path d="M68.70 270.20v3.6M74.31 270.20v2.6M77.60 270.20v2.6M79.93 270.20v2.6M81.74 270.20v2.6M83.21 270.20v2.6M84.46 270.20v2.6M85.54 270.20v2.6M86.50 270.20v2.6M87.35 270.20v3.6M92.96 270.20v2.6M96.25 270.20v2.6M98.58 270.20v2.6M100.39 270.20v2.6M101.86 270.20v2.6M103.11 270.20v2.6M104.19 270.20v2.6M105.15 270.20v2.6M106.00 270.20v3.6M111.61 270.20v2.6M114.90 270.20v2.6M117.23 270.20v2.6M119.04 270.20v2.6M120.51 270.20v2.6M121.76 270.20v2.6M122.84 270.20v2.6M123.80 270.20v2.6M124.65 270.20v3.6M130.26 270.20v2.6M133.55 270.20v2.6M135.88 270.20v2.6M137.69 270.20v2.6M139.16 270.20v2.6M140.41 270.20v2.6M141.49 270.20v2.6M142.45 270.20v2.6M143.30 270.20v3.0" stroke="#111" stroke-width="1.0" fill="none"/>
<path d="M68.20 270.60H143.80" stroke="#111" stroke-width="1.4" fill="none"/>
<path d="M68.70 271.80H143.30" stroke="#111" stroke-width="1.0" stroke-opacity="0.45" fill="none"/>
<path d="M71.50 268.70 C71.83 267.70 72.85 264.75 73.50 262.70 C74.15 260.65 74.68 258.37 75.40 256.40 C76.12 254.43 77.08 252.07 77.80 250.90 C78.52 249.73 79.05 249.13 79.70 249.40 C80.35 249.67 81.10 250.93 81.70 252.50 C82.30 254.07 82.65 256.57 83.30 258.80 C83.95 261.03 84.82 264.25 85.60 265.90 C86.38 267.55 87.60 268.23 88.00 268.70" stroke="#111" stroke-width="1.0" fill="none" stroke-dasharray="1.4 1.7"/>
<path d="M69.30 269.80 C69.53 269.75 69.42 269.68 70.70 269.50 C71.98 269.32 75.30 269.25 77.00 268.70 C78.70 268.15 79.85 267.07 80.90 266.20 C81.95 265.33 82.63 264.17 83.30 263.50 C83.97 262.83 84.25 262.12 84.90 262.20 C85.55 262.28 86.55 263.65 87.20 264.00 C87.85 264.35 88.20 265.17 88.80 264.30 C89.40 263.43 90.07 260.63 90.80 258.80 C91.53 256.97 92.48 254.53 93.20 253.30 C93.92 252.07 94.45 251.02 95.10 251.40 C95.75 251.78 96.32 253.72 97.10 255.60 C97.88 257.48 98.95 260.73 99.80 262.70 C100.65 264.67 101.28 266.30 102.20 267.40 C103.12 268.50 104.17 268.88 105.30 269.30 C106.43 269.72 108.38 269.80 109.00 269.90" stroke="#111" stroke-width="0.95" fill="none" stroke-linejoin="round"/>
<text transform="translate(62.90 215.10) rotate(-90)" text-anchor="middle" font-size="6.9" textLength="10.6" lengthAdjust="spacingAndGlyphs">200</text>
<text transform="translate(63.10 269.90) rotate(-90)" text-anchor="middle" font-size="6.9" textLength="3.5" lengthAdjust="spacingAndGlyphs">0</text>
<text transform="translate(56.00 243.90) rotate(-90)" text-anchor="middle" font-size="7.2" textLength="20.8" lengthAdjust="spacingAndGlyphs">Counts</text>
<text transform="translate(64.20 281.60) scale(0.87 1)" font-size="6.6">10<tspan dy="-3.6" font-size="6.5">0</tspan></text>
<text transform="translate(82.85 281.60) scale(0.87 1)" font-size="6.6">10<tspan dy="-3.6" font-size="6.5">1</tspan></text>
<text transform="translate(101.50 281.60) scale(0.87 1)" font-size="6.6">10<tspan dy="-3.6" font-size="6.5">2</tspan></text>
<text transform="translate(120.15 281.60) scale(0.87 1)" font-size="6.6">10<tspan dy="-3.6" font-size="6.5">3</tspan></text>
<text transform="translate(138.10 281.60) scale(0.87 1)" font-size="6.6">10<tspan dy="-3.6" font-size="6.5">4</tspan></text>
<text x="104.40" y="288.10" text-anchor="middle" font-size="6.6" textLength="31.5" lengthAdjust="spacingAndGlyphs">FL1-Height</text>
</g>
<g>
<rect x="194.30" y="215.90" width="74.30" height="55.80" fill="none" stroke="#1a1a1a" stroke-width="0.9"/>
<path d="M194.30 215.90h-3.0M194.30 218.13h-2.0M194.30 220.36h-2.0M194.30 222.60h-2.0M194.30 224.83h-2.0M194.30 227.06h-3.0M194.30 229.29h-2.0M194.30 231.52h-2.0M194.30 233.76h-2.0M194.30 235.99h-2.0M194.30 238.22h-3.0M194.30 240.45h-2.0M194.30 242.68h-2.0M194.30 244.92h-2.0M194.30 247.15h-2.0M194.30 249.38h-3.0M194.30 251.61h-2.0M194.30 253.84h-2.0M194.30 256.08h-2.0M194.30 258.31h-2.0M194.30 260.54h-3.0M194.30 262.77h-2.0M194.30 265.00h-2.0M194.30 267.24h-2.0M194.30 269.47h-2.0M194.30 271.70h-3.0" stroke="#111" stroke-width="1.1" fill="none"/>
<path d="M194.30 271.70v3.6M199.89 271.70v2.6M203.16 271.70v2.6M205.48 271.70v2.6M207.28 271.70v2.6M208.75 271.70v2.6M210.00 271.70v2.6M211.07 271.70v2.6M212.03 271.70v2.6M212.88 271.70v3.6M218.47 271.70v2.6M221.74 271.70v2.6M224.06 271.70v2.6M225.86 271.70v2.6M227.33 271.70v2.6M228.57 271.70v2.6M229.65 271.70v2.6M230.60 271.70v2.6M231.45 271.70v3.6M237.04 271.70v2.6M240.31 271.70v2.6M242.63 271.70v2.6M244.43 271.70v2.6M245.90 271.70v2.6M247.15 271.70v2.6M248.22 271.70v2.6M249.18 271.70v2.6M250.03 271.70v3.6M255.62 271.70v2.6M258.89 271.70v2.6M261.21 271.70v2.6M263.01 271.70v2.6M264.48 271.70v2.6M265.72 271.70v2.6M266.80 271.70v2.6M267.75 271.70v2.6M268.60 271.70v3.0" stroke="#111" stroke-width="1.0" fill="none"/>
<path d="M193.80 272.10H269.10" stroke="#111" stroke-width="1.4" fill="none"/>
<path d="M196.30 273.40H268.60" stroke="#111" stroke-width="1.1" stroke-opacity="0.85" stroke-dasharray="3.2 1.1 1.4 0.9" fill="none"/>
<path d="M196.40 269.40 C196.78 268.23 197.92 264.75 198.70 262.40 C199.48 260.05 200.32 257.13 201.10 255.30 C201.88 253.47 202.67 252.27 203.40 251.40 C204.13 250.53 204.83 249.98 205.50 250.10 C206.17 250.22 206.83 250.72 207.40 252.10 C207.97 253.48 208.38 256.30 208.90 258.40 C209.42 260.50 209.97 262.92 210.50 264.70 C211.03 266.48 211.83 268.37 212.10 269.10" stroke="#111" stroke-width="1.0" fill="none" stroke-dasharray="1.4 1.7"/>
<path d="M200.00 271.20 C201.10 271.17 204.20 271.35 206.60 271.00 C209.00 270.65 212.30 269.75 214.40 269.10 C216.50 268.45 217.62 267.83 219.20 267.10 C220.78 266.37 222.47 265.37 223.90 264.70 C225.33 264.03 226.63 263.88 227.80 263.10 C228.97 262.32 229.98 261.03 230.90 260.00 C231.82 258.97 232.58 257.95 233.30 256.90 C234.02 255.85 234.73 254.37 235.20 253.70 C235.67 253.03 235.72 252.50 236.10 252.90 C236.48 253.30 237.05 254.52 237.50 256.10 C237.95 257.68 238.32 260.43 238.80 262.40 C239.28 264.37 239.88 266.60 240.40 267.90 C240.92 269.20 241.13 269.65 241.90 270.20 C242.67 270.75 244.48 271.03 245.00 271.20" stroke="#111" stroke-width="0.95" fill="none" stroke-linejoin="round"/>
<text transform="translate(188.50 216.20) rotate(-90)" text-anchor="middle" font-size="6.9" textLength="10.6" lengthAdjust="spacingAndGlyphs">200</text>
<text transform="translate(188.70 271.40) rotate(-90)" text-anchor="middle" font-size="6.9" textLength="3.5" lengthAdjust="spacingAndGlyphs">0</text>
<text transform="translate(181.60 245.20) rotate(-90)" text-anchor="middle" font-size="7.2" textLength="20.8" lengthAdjust="spacingAndGlyphs">Counts</text>
<text transform="translate(189.80 283.10) scale(0.87 1)" font-size="6.6">10<tspan dy="-3.6" font-size="6.5">0</tspan></text>
<text transform="translate(208.38 283.10) scale(0.87 1)" font-size="6.6">10<tspan dy="-3.6" font-size="6.5">1</tspan></text>
<text transform="translate(226.95 283.10) scale(0.87 1)" font-size="6.6">10<tspan dy="-3.6" font-size="6.5">2</tspan></text>
<text transform="translate(245.53 283.10) scale(0.87 1)" font-size="6.6">10<tspan dy="-3.6" font-size="6.5">3</tspan></text>
<text transform="translate(263.40 283.10) scale(0.87 1)" font-size="6.6">10<tspan dy="-3.6" font-size="6.5">4</tspan></text>
<text x="229.85" y="289.60" text-anchor="middle" font-size="6.6" textLength="31.5" lengthAdjust="spacingAndGlyphs">FL1-Height</text>
</g>
<g>
<rect x="312.30" y="218.00" width="74.40" height="55.70" fill="none" stroke="#1a1a1a" stroke-width="0.9"/>
<path d="M312.30 218.00h-3.0M312.30 220.23h-2.0M312.30 222.46h-2.0M312.30 224.68h-2.0M312.30 226.91h-2.0M312.30 229.14h-3.0M312.30 231.37h-2.0M312.30 233.60h-2.0M312.30 235.82h-2.0M312.30 238.05h-2.0M312.30 240.28h-3.0M312.30 242.51h-2.0M312.30 244.74h-2.0M312.30 246.96h-2.0M312.30 249.19h-2.0M312.30 251.42h-3.0M312.30 253.65h-2.0M312.30 255.88h-2.0M312.30 258.10h-2.0M312.30 260.33h-2.0M312.30 262.56h-3.0M312.30 264.79h-2.0M312.30 267.02h-2.0M312.30 269.24h-2.0M312.30 271.47h-2.0M312.30 273.70h-3.0" stroke="#111" stroke-width="1.1" fill="none"/>
<path d="M312.30 273.70v3.6M317.90 273.70v2.6M321.17 273.70v2.6M323.50 273.70v2.6M325.30 273.70v2.6M326.77 273.70v2.6M328.02 273.70v2.6M329.10 273.70v2.6M330.05 273.70v2.6M330.90 273.70v3.6M336.50 273.70v2.6M339.77 273.70v2.6M342.10 273.70v2.6M343.90 273.70v2.6M345.37 273.70v2.6M346.62 273.70v2.6M347.70 273.70v2.6M348.65 273.70v2.6M349.50 273.70v3.6M355.10 273.70v2.6M358.37 273.70v2.6M360.70 273.70v2.6M362.50 273.70v2.6M363.97 273.70v2.6M365.22 273.70v2.6M366.30 273.70v2.6M367.25 273.70v2.6M368.10 273.70v3.6M373.70 273.70v2.6M376.97 273.70v2.6M379.30 273.70v2.6M381.10 273.70v2.6M382.57 273.70v2.6M383.82 273.70v2.6M384.90 273.70v2.6M385.85 273.70v2.6M386.70 273.70v3.0" stroke="#111" stroke-width="1.0" fill="none"/>
<path d="M311.80 274.10H387.20" stroke="#111" stroke-width="1.4" fill="none"/>
<path d="M312.30 275.30H386.70" stroke="#111" stroke-width="1.0" stroke-opacity="0.45" fill="none"/>
<path d="M316.10 271.70 C316.37 270.65 317.12 267.50 317.70 265.40 C318.28 263.30 318.95 260.93 319.60 259.10 C320.25 257.27 320.87 255.50 321.60 254.40 C322.33 253.30 323.28 252.25 324.00 252.50 C324.72 252.75 325.32 254.28 325.90 255.90 C326.48 257.52 326.98 260.10 327.50 262.20 C328.02 264.30 328.58 266.87 329.00 268.50 C329.42 270.13 329.83 271.42 330.00 272.00" stroke="#111" stroke-width="1.0" fill="none" stroke-dasharray="1.4 1.7"/>
<path d="M313.00 273.10 C313.52 273.05 314.00 273.03 316.10 272.80 C318.20 272.57 323.50 272.15 325.60 271.70 C327.70 271.25 327.78 270.90 328.70 270.10 C329.62 269.30 330.32 267.95 331.10 266.90 C331.88 265.85 332.62 264.45 333.40 263.80 C334.18 263.15 335.02 263.52 335.80 263.00 C336.58 262.48 337.32 261.48 338.10 260.70 C338.88 259.92 339.70 258.92 340.50 258.30 C341.30 257.68 342.30 256.87 342.90 257.00 C343.50 257.13 343.72 257.97 344.10 259.10 C344.48 260.23 344.62 262.10 345.20 263.80 C345.78 265.50 346.82 267.92 347.60 269.30 C348.38 270.68 348.85 271.45 349.90 272.10 C350.95 272.75 352.55 272.98 353.90 273.20 C355.25 273.42 357.32 273.37 358.00 273.40" stroke="#111" stroke-width="0.95" fill="none" stroke-linejoin="round"/>
<text transform="translate(306.50 218.30) rotate(-90)" text-anchor="middle" font-size="6.9" textLength="10.6" lengthAdjust="spacingAndGlyphs">200</text>
<text transform="translate(306.70 273.40) rotate(-90)" text-anchor="middle" font-size="6.9" textLength="3.5" lengthAdjust="spacingAndGlyphs">0</text>
<text transform="translate(299.60 247.25) rotate(-90)" text-anchor="middle" font-size="7.2" textLength="20.8" lengthAdjust="spacingAndGlyphs">Counts</text>
<text transform="translate(307.80 285.10) scale(0.87 1)" font-size="6.6">10<tspan dy="-3.6" font-size="6.5">0</tspan></text>
<text transform="translate(326.40 285.10) scale(0.87 1)" font-size="6.6">10<tspan dy="-3.6" font-size="6.5">1</tspan></text>
<text transform="translate(345.00 285.10) scale(0.87 1)" font-size="6.6">10<tspan dy="-3.6" font-size="6.5">2</tspan></text>
<text transform="translate(363.60 285.10) scale(0.87 1)" font-size="6.6">10<tspan dy="-3.6" font-size="6.5">3</tspan></text>
<text transform="translate(381.50 285.10) scale(0.87 1)" font-size="6.6">10<tspan dy="-3.6" font-size="6.5">4</tspan></text>
<text x="347.90" y="291.60" text-anchor="middle" font-size="6.6" textLength="31.5" lengthAdjust="spacingAndGlyphs">FL1-Height</text>
</g>
<g>
<rect x="440.60" y="220.80" width="74.70" height="55.40" fill="none" stroke="#1a1a1a" stroke-width="0.9"/>
<path d="M440.60 220.80h-3.0M440.60 223.02h-2.0M440.60 225.23h-2.0M440.60 227.45h-2.0M440.60 229.66h-2.0M440.60 231.88h-3.0M440.60 234.10h-2.0M440.60 236.31h-2.0M440.60 238.53h-2.0M440.60 240.74h-2.0M440.60 242.96h-3.0M440.60 245.18h-2.0M440.60 247.39h-2.0M440.60 249.61h-2.0M440.60 251.82h-2.0M440.60 254.04h-3.0M440.60 256.26h-2.0M440.60 258.47h-2.0M440.60 260.69h-2.0M440.60 262.90h-2.0M440.60 265.12h-3.0M440.60 267.34h-2.0M440.60 269.55h-2.0M440.60 271.77h-2.0M440.60 273.98h-2.0M440.60 276.20h-3.0" stroke="#111" stroke-width="1.1" fill="none"/>
<path d="M440.60 276.20v3.6M446.22 276.20v2.6M449.51 276.20v2.6M451.84 276.20v2.6M453.65 276.20v2.6M455.13 276.20v2.6M456.38 276.20v2.6M457.47 276.20v2.6M458.42 276.20v2.6M459.27 276.20v3.6M464.90 276.20v2.6M468.19 276.20v2.6M470.52 276.20v2.6M472.33 276.20v2.6M473.81 276.20v2.6M475.06 276.20v2.6M476.14 276.20v2.6M477.10 276.20v2.6M477.95 276.20v3.6M483.57 276.20v2.6M486.86 276.20v2.6M489.19 276.20v2.6M491.00 276.20v2.6M492.48 276.20v2.6M493.73 276.20v2.6M494.82 276.20v2.6M495.77 276.20v2.6M496.62 276.20v3.6M502.25 276.20v2.6M505.54 276.20v2.6M507.87 276.20v2.6M509.68 276.20v2.6M511.16 276.20v2.6M512.41 276.20v2.6M513.49 276.20v2.6M514.45 276.20v2.6M515.30 276.20v3.0" stroke="#111" stroke-width="1.0" fill="none"/>
<path d="M440.10 276.60H515.80" stroke="#111" stroke-width="1.4" fill="none"/>
<path d="M440.60 277.80H515.30" stroke="#111" stroke-width="1.0" stroke-opacity="0.45" fill="none"/>
<path d="M441.80 274.40 C442.18 273.88 443.32 272.73 444.10 271.30 C444.88 269.87 445.70 267.90 446.50 265.80 C447.30 263.70 448.25 260.40 448.90 258.70 C449.55 257.00 449.88 256.30 450.40 255.60 C450.92 254.90 451.42 254.25 452.00 254.50 C452.58 254.75 453.32 255.75 453.90 257.10 C454.48 258.45 454.98 260.50 455.50 262.60 C456.02 264.70 456.40 267.73 457.00 269.70 C457.60 271.67 458.75 273.62 459.10 274.40" stroke="#111" stroke-width="1.0" fill="none" stroke-dasharray="1.4 1.7"/>
<path d="M441.00 275.50 C441.13 275.32 441.28 275.10 441.80 274.40 C442.32 273.70 443.32 272.73 444.10 271.30 C444.88 269.87 445.70 267.90 446.50 265.80 C447.30 263.70 448.25 260.40 448.90 258.70 C449.55 257.00 449.88 256.30 450.40 255.60 C450.92 254.90 451.42 254.25 452.00 254.50 C452.58 254.75 453.32 255.75 453.90 257.10 C454.48 258.45 454.98 260.50 455.50 262.60 C456.02 264.70 456.40 267.73 457.00 269.70 C457.60 271.67 458.37 273.40 459.10 274.40 C459.83 275.40 460.25 275.43 461.40 275.70 C462.55 275.97 465.23 275.95 466.00 276.00" stroke="#111" stroke-width="0.95" fill="none" stroke-linejoin="round"/>
<text transform="translate(434.80 221.10) rotate(-90)" text-anchor="middle" font-size="6.9" textLength="10.6" lengthAdjust="spacingAndGlyphs">200</text>
<text transform="translate(435.00 275.90) rotate(-90)" text-anchor="middle" font-size="6.9" textLength="3.5" lengthAdjust="spacingAndGlyphs">0</text>
<text transform="translate(427.90 249.90) rotate(-90)" text-anchor="middle" font-size="7.2" textLength="20.8" lengthAdjust="spacingAndGlyphs">Counts</text>
<text transform="translate(436.10 287.60) scale(0.87 1)" font-size="6.6">10<tspan dy="-3.6" font-size="6.5">0</tspan></text>
<text transform="translate(454.77 287.60) scale(0.87 1)" font-size="6.6">10<tspan dy="-3.6" font-size="6.5">1</tspan></text>
<text transform="translate(473.45 287.60) scale(0.87 1)" font-size="6.6">10<tspan dy="-3.6" font-size="6.5">2</tspan></text>
<text transform="translate(492.12 287.60) scale(0.87 1)" font-size="6.6">10<tspan dy="-3.6" font-size="6.5">3</tspan></text>
<text transform="translate(510.10 287.60) scale(0.87 1)" font-size="6.6">10<tspan dy="-3.6" font-size="6.5">4</tspan></text>
<text x="476.35" y="294.10" text-anchor="middle" font-size="6.6" textLength="31.5" lengthAdjust="spacingAndGlyphs">FL1-Height</text>
</g>
<g>
<rect x="68.50" y="306.00" width="74.80" height="55.40" fill="none" stroke="#1a1a1a" stroke-width="0.9"/>
<path d="M68.50 306.00h-3.0M68.50 308.22h-2.0M68.50 310.43h-2.0M68.50 312.65h-2.0M68.50 314.86h-2.0M68.50 317.08h-3.0M68.50 319.30h-2.0M68.50 321.51h-2.0M68.50 323.73h-2.0M68.50 325.94h-2.0M68.50 328.16h-3.0M68.50 330.38h-2.0M68.50 332.59h-2.0M68.50 334.81h-2.0M68.50 337.02h-2.0M68.50 339.24h-3.0M68.50 341.46h-2.0M68.50 343.67h-2.0M68.50 345.89h-2.0M68.50 348.10h-2.0M68.50 350.32h-3.0M68.50 352.54h-2.0M68.50 354.75h-2.0M68.50 356.97h-2.0M68.50 359.18h-2.0M68.50 361.40h-3.0" stroke="#111" stroke-width="1.1" fill="none"/>
<path d="M68.50 361.40v3.6M74.13 361.40v2.6M77.42 361.40v2.6M79.76 361.40v2.6M81.57 361.40v2.6M83.05 361.40v2.6M84.30 361.40v2.6M85.39 361.40v2.6M86.34 361.40v2.6M87.20 361.40v3.6M92.83 361.40v2.6M96.12 361.40v2.6M98.46 361.40v2.6M100.27 361.40v2.6M101.75 361.40v2.6M103.00 361.40v2.6M104.09 361.40v2.6M105.04 361.40v2.6M105.90 361.40v3.6M111.53 361.40v2.6M114.82 361.40v2.6M117.16 361.40v2.6M118.97 361.40v2.6M120.45 361.40v2.6M121.70 361.40v2.6M122.79 361.40v2.6M123.74 361.40v2.6M124.60 361.40v3.6M130.23 361.40v2.6M133.52 361.40v2.6M135.86 361.40v2.6M137.67 361.40v2.6M139.15 361.40v2.6M140.40 361.40v2.6M141.49 361.40v2.6M142.44 361.40v2.6M143.30 361.40v3.0" stroke="#111" stroke-width="1.0" fill="none"/>
<path d="M68.00 361.80H143.80" stroke="#111" stroke-width="1.4" fill="none"/>
<path d="M68.50 363.00H143.30" stroke="#111" stroke-width="1.0" stroke-opacity="0.45" fill="none"/>
<path d="M70.70 359.40 C71.23 358.35 72.98 355.45 73.90 353.10 C74.82 350.75 75.42 348.05 76.20 345.30 C76.98 342.55 77.95 338.43 78.60 336.60 C79.25 334.77 79.58 334.17 80.10 334.30 C80.62 334.43 81.17 335.30 81.70 337.40 C82.23 339.50 82.77 344.15 83.30 346.90 C83.83 349.65 84.38 351.95 84.90 353.90 C85.42 355.85 86.15 357.82 86.40 358.60" stroke="#111" stroke-width="1.0" fill="none" stroke-dasharray="1.4 1.7"/>
<path d="M69.30 361.00 C69.53 360.95 68.90 360.97 70.70 360.70 C72.50 360.43 77.62 359.93 80.10 359.40 C82.58 358.87 84.28 358.28 85.60 357.50 C86.92 356.72 87.28 356.35 88.00 354.70 C88.72 353.05 89.25 350.22 89.90 347.60 C90.55 344.98 91.30 340.95 91.90 339.00 C92.50 337.05 92.92 335.77 93.50 335.90 C94.08 336.03 94.75 337.72 95.40 339.80 C96.05 341.88 96.67 345.78 97.40 348.40 C98.13 351.02 99.00 353.72 99.80 355.50 C100.60 357.28 101.28 358.23 102.20 359.10 C103.12 359.97 104.17 360.37 105.30 360.70 C106.43 361.03 108.38 361.03 109.00 361.10" stroke="#111" stroke-width="0.95" fill="none" stroke-linejoin="round"/>
<text transform="translate(62.70 306.30) rotate(-90)" text-anchor="middle" font-size="6.9" textLength="10.6" lengthAdjust="spacingAndGlyphs">200</text>
<text transform="translate(62.90 361.10) rotate(-90)" text-anchor="middle" font-size="6.9" textLength="3.5" lengthAdjust="spacingAndGlyphs">0</text>
<text transform="translate(55.80 335.10) rotate(-90)" text-anchor="middle" font-size="7.2" textLength="20.8" lengthAdjust="spacingAndGlyphs">Counts</text>
<text transform="translate(64.00 372.80) scale(0.87 1)" font-size="6.6">10<tspan dy="-3.6" font-size="6.5">0</tspan></text>
<text transform="translate(82.70 372.80) scale(0.87 1)" font-size="6.6">10<tspan dy="-3.6" font-size="6.5">1</tspan></text>
<text transform="translate(101.40 372.80) scale(0.87 1)" font-size="6.6">10<tspan dy="-3.6" font-size="6.5">2</tspan></text>
<text transform="translate(120.10 372.80) scale(0.87 1)" font-size="6.6">10<tspan dy="-3.6" font-size="6.5">3</tspan></text>
<text transform="translate(138.10 372.80) scale(0.87 1)" font-size="6.6">10<tspan dy="-3.6" font-size="6.5">4</tspan></text>
<text x="104.30" y="379.30" text-anchor="middle" font-size="6.6" textLength="31.5" lengthAdjust="spacingAndGlyphs">FL1-Height</text>
</g>
<g>
<rect x="194.10" y="304.40" width="74.50" height="55.10" fill="none" stroke="#1a1a1a" stroke-width="0.9"/>
<path d="M194.10 304.40h-3.0M194.10 306.60h-2.0M194.10 308.81h-2.0M194.10 311.01h-2.0M194.10 313.22h-2.0M194.10 315.42h-3.0M194.10 317.62h-2.0M194.10 319.83h-2.0M194.10 322.03h-2.0M194.10 324.24h-2.0M194.10 326.44h-3.0M194.10 328.64h-2.0M194.10 330.85h-2.0M194.10 333.05h-2.0M194.10 335.26h-2.0M194.10 337.46h-3.0M194.10 339.66h-2.0M194.10 341.87h-2.0M194.10 344.07h-2.0M194.10 346.28h-2.0M194.10 348.48h-3.0M194.10 350.68h-2.0M194.10 352.89h-2.0M194.10 355.09h-2.0M194.10 357.30h-2.0M194.10 359.50h-3.0" stroke="#111" stroke-width="1.1" fill="none"/>
<path d="M194.10 359.50v3.6M199.71 359.50v2.6M202.99 359.50v2.6M205.31 359.50v2.6M207.12 359.50v2.6M208.59 359.50v2.6M209.84 359.50v2.6M210.92 359.50v2.6M211.87 359.50v2.6M212.72 359.50v3.6M218.33 359.50v2.6M221.61 359.50v2.6M223.94 359.50v2.6M225.74 359.50v2.6M227.22 359.50v2.6M228.46 359.50v2.6M229.55 359.50v2.6M230.50 359.50v2.6M231.35 359.50v3.6M236.96 359.50v2.6M240.24 359.50v2.6M242.56 359.50v2.6M244.37 359.50v2.6M245.84 359.50v2.6M247.09 359.50v2.6M248.17 359.50v2.6M249.12 359.50v2.6M249.98 359.50v3.6M255.58 359.50v2.6M258.86 359.50v2.6M261.19 359.50v2.6M262.99 359.50v2.6M264.47 359.50v2.6M265.71 359.50v2.6M266.80 359.50v2.6M267.75 359.50v2.6M268.60 359.50v3.0" stroke="#111" stroke-width="1.0" fill="none"/>
<path d="M193.60 359.90H269.10" stroke="#111" stroke-width="1.4" fill="none"/>
<path d="M196.10 361.20H268.60" stroke="#111" stroke-width="1.1" stroke-opacity="0.85" stroke-dasharray="3.2 1.1 1.4 0.9" fill="none"/>
<path d="M196.40 357.40 C196.78 356.75 197.92 355.33 198.70 353.50 C199.48 351.67 200.32 349.28 201.10 346.40 C201.88 343.52 202.62 338.50 203.40 336.20 C204.18 333.90 205.13 332.60 205.80 332.60 C206.47 332.60 206.88 334.15 207.40 336.20 C207.92 338.25 208.38 342.02 208.90 344.90 C209.42 347.78 209.97 351.28 210.50 353.50 C211.03 355.72 211.83 357.42 212.10 358.20" stroke="#111" stroke-width="1.0" fill="none" stroke-dasharray="1.4 1.7"/>
<path d="M208.00 359.20 C209.07 359.17 212.28 359.23 214.40 359.00 C216.52 358.77 219.12 358.37 220.70 357.80 C222.28 357.23 223.12 356.18 223.90 355.60 C224.68 355.02 224.75 354.25 225.40 354.30 C226.05 354.35 227.00 355.90 227.80 355.90 C228.60 355.90 229.42 355.88 230.20 354.30 C230.98 352.72 231.77 349.80 232.50 346.40 C233.23 343.00 233.95 336.57 234.60 333.90 C235.25 331.23 235.78 330.40 236.40 330.40 C237.02 330.40 237.72 331.23 238.30 333.90 C238.88 336.57 239.37 342.87 239.90 346.40 C240.43 349.93 240.90 353.13 241.50 355.10 C242.10 357.07 242.58 357.52 243.50 358.20 C244.42 358.88 246.42 359.03 247.00 359.20" stroke="#111" stroke-width="0.95" fill="none" stroke-linejoin="round"/>
<text transform="translate(188.30 304.70) rotate(-90)" text-anchor="middle" font-size="6.9" textLength="10.6" lengthAdjust="spacingAndGlyphs">200</text>
<text transform="translate(188.50 359.20) rotate(-90)" text-anchor="middle" font-size="6.9" textLength="3.5" lengthAdjust="spacingAndGlyphs">0</text>
<text transform="translate(181.40 333.35) rotate(-90)" text-anchor="middle" font-size="7.2" textLength="20.8" lengthAdjust="spacingAndGlyphs">Counts</text>
<text transform="translate(189.60 370.90) scale(0.87 1)" font-size="6.6">10<tspan dy="-3.6" font-size="6.5">0</tspan></text>
<text transform="translate(208.22 370.90) scale(0.87 1)" font-size="6.6">10<tspan dy="-3.6" font-size="6.5">1</tspan></text>
<text transform="translate(226.85 370.90) scale(0.87 1)" font-size="6.6">10<tspan dy="-3.6" font-size="6.5">2</tspan></text>
<text transform="translate(245.48 370.90) scale(0.87 1)" font-size="6.6">10<tspan dy="-3.6" font-size="6.5">3</tspan></text>
<text transform="translate(263.40 370.90) scale(0.87 1)" font-size="6.6">10<tspan dy="-3.6" font-size="6.5">4</tspan></text>
<text x="229.75" y="377.40" text-anchor="middle" font-size="6.6" textLength="31.5" lengthAdjust="spacingAndGlyphs">FL1-Height</text>
</g>
<g>
<rect x="313.30" y="305.70" width="74.50" height="55.40" fill="none" stroke="#1a1a1a" stroke-width="0.9"/>
<path d="M313.30 305.70h-3.0M313.30 307.92h-2.0M313.30 310.13h-2.0M313.30 312.35h-2.0M313.30 314.56h-2.0M313.30 316.78h-3.0M313.30 319.00h-2.0M313.30 321.21h-2.0M313.30 323.43h-2.0M313.30 325.64h-2.0M313.30 327.86h-3.0M313.30 330.08h-2.0M313.30 332.29h-2.0M313.30 334.51h-2.0M313.30 336.72h-2.0M313.30 338.94h-3.0M313.30 341.16h-2.0M313.30 343.37h-2.0M313.30 345.59h-2.0M313.30 347.80h-2.0M313.30 350.02h-3.0M313.30 352.24h-2.0M313.30 354.45h-2.0M313.30 356.67h-2.0M313.30 358.88h-2.0M313.30 361.10h-3.0" stroke="#111" stroke-width="1.1" fill="none"/>
<path d="M313.30 361.10v3.6M318.91 361.10v2.6M322.19 361.10v2.6M324.51 361.10v2.6M326.32 361.10v2.6M327.79 361.10v2.6M329.04 361.10v2.6M330.12 361.10v2.6M331.07 361.10v2.6M331.93 361.10v3.6M337.53 361.10v2.6M340.81 361.10v2.6M343.14 361.10v2.6M344.94 361.10v2.6M346.42 361.10v2.6M347.66 361.10v2.6M348.75 361.10v2.6M349.70 361.10v2.6M350.55 361.10v3.6M356.16 361.10v2.6M359.44 361.10v2.6M361.76 361.10v2.6M363.57 361.10v2.6M365.04 361.10v2.6M366.29 361.10v2.6M367.37 361.10v2.6M368.32 361.10v2.6M369.18 361.10v3.6M374.78 361.10v2.6M378.06 361.10v2.6M380.39 361.10v2.6M382.19 361.10v2.6M383.67 361.10v2.6M384.91 361.10v2.6M386.00 361.10v2.6M386.95 361.10v2.6M387.80 361.10v3.0" stroke="#111" stroke-width="1.0" fill="none"/>
<path d="M312.80 361.50H388.30" stroke="#111" stroke-width="1.4" fill="none"/>
<path d="M313.30 362.70H387.80" stroke="#111" stroke-width="1.0" stroke-opacity="0.45" fill="none"/>
<path d="M315.80 359.10 C316.25 358.10 317.65 355.40 318.50 353.10 C319.35 350.80 320.12 347.92 320.90 345.30 C321.68 342.68 322.42 339.23 323.20 337.40 C323.98 335.57 324.95 334.17 325.60 334.30 C326.25 334.43 326.58 335.85 327.10 338.20 C327.62 340.55 328.17 345.38 328.70 348.40 C329.23 351.42 329.77 354.47 330.30 356.30 C330.83 358.13 331.63 358.88 331.90 359.40" stroke="#111" stroke-width="1.0" fill="none" stroke-dasharray="1.4 1.7"/>
<path d="M314.00 360.40 C314.35 360.35 313.92 360.32 316.10 360.10 C318.28 359.88 324.60 359.60 327.10 359.10 C329.60 358.60 329.92 358.22 331.10 357.10 C332.28 355.98 333.15 354.23 334.20 352.40 C335.25 350.57 336.62 347.28 337.40 346.10 C338.18 344.92 338.30 346.08 338.90 345.30 C339.50 344.52 340.38 342.32 341.00 341.40 C341.62 340.48 342.08 339.28 342.60 339.80 C343.12 340.32 343.48 342.53 344.10 344.50 C344.72 346.47 345.58 349.50 346.30 351.60 C347.02 353.70 347.67 355.80 348.40 357.10 C349.13 358.40 349.78 358.85 350.70 359.40 C351.62 359.95 352.68 360.18 353.90 360.40 C355.12 360.62 357.32 360.65 358.00 360.70" stroke="#111" stroke-width="0.95" fill="none" stroke-linejoin="round"/>
<text transform="translate(307.50 306.00) rotate(-90)" text-anchor="middle" font-size="6.9" textLength="10.6" lengthAdjust="spacingAndGlyphs">200</text>
<text transform="translate(307.70 360.80) rotate(-90)" text-anchor="middle" font-size="6.9" textLength="3.5" lengthAdjust="spacingAndGlyphs">0</text>
<text transform="translate(300.60 334.80) rotate(-90)" text-anchor="middle" font-size="7.2" textLength="20.8" lengthAdjust="spacingAndGlyphs">Counts</text>
<text transform="translate(308.80 372.50) scale(0.87 1)" font-size="6.6">10<tspan dy="-3.6" font-size="6.5">0</tspan></text>
<text transform="translate(327.43 372.50) scale(0.87 1)" font-size="6.6">10<tspan dy="-3.6" font-size="6.5">1</tspan></text>
<text transform="translate(346.05 372.50) scale(0.87 1)" font-size="6.6">10<tspan dy="-3.6" font-size="6.5">2</tspan></text>
<text transform="translate(364.68 372.50) scale(0.87 1)" font-size="6.6">10<tspan dy="-3.6" font-size="6.5">3</tspan></text>
<text transform="translate(382.60 372.50) scale(0.87 1)" font-size="6.6">10<tspan dy="-3.6" font-size="6.5">4</tspan></text>
<text x="348.95" y="379.00" text-anchor="middle" font-size="6.6" textLength="31.5" lengthAdjust="spacingAndGlyphs">FL1-Height</text>
</g>
<g>
<rect x="440.10" y="307.30" width="74.50" height="54.80" fill="none" stroke="#1a1a1a" stroke-width="0.9"/>
<path d="M440.10 307.30h-3.0M440.10 309.49h-2.0M440.10 311.68h-2.0M440.10 313.88h-2.0M440.10 316.07h-2.0M440.10 318.26h-3.0M440.10 320.45h-2.0M440.10 322.64h-2.0M440.10 324.84h-2.0M440.10 327.03h-2.0M440.10 329.22h-3.0M440.10 331.41h-2.0M440.10 333.60h-2.0M440.10 335.80h-2.0M440.10 337.99h-2.0M440.10 340.18h-3.0M440.10 342.37h-2.0M440.10 344.56h-2.0M440.10 346.76h-2.0M440.10 348.95h-2.0M440.10 351.14h-3.0M440.10 353.33h-2.0M440.10 355.52h-2.0M440.10 357.72h-2.0M440.10 359.91h-2.0M440.10 362.10h-3.0" stroke="#111" stroke-width="1.1" fill="none"/>
<path d="M440.10 362.10v3.6M445.71 362.10v2.6M448.99 362.10v2.6M451.31 362.10v2.6M453.12 362.10v2.6M454.59 362.10v2.6M455.84 362.10v2.6M456.92 362.10v2.6M457.87 362.10v2.6M458.73 362.10v3.6M464.33 362.10v2.6M467.61 362.10v2.6M469.94 362.10v2.6M471.74 362.10v2.6M473.22 362.10v2.6M474.46 362.10v2.6M475.55 362.10v2.6M476.50 362.10v2.6M477.35 362.10v3.6M482.96 362.10v2.6M486.24 362.10v2.6M488.56 362.10v2.6M490.37 362.10v2.6M491.84 362.10v2.6M493.09 362.10v2.6M494.17 362.10v2.6M495.12 362.10v2.6M495.98 362.10v3.6M501.58 362.10v2.6M504.86 362.10v2.6M507.19 362.10v2.6M508.99 362.10v2.6M510.47 362.10v2.6M511.71 362.10v2.6M512.80 362.10v2.6M513.75 362.10v2.6M514.60 362.10v3.0" stroke="#111" stroke-width="1.0" fill="none"/>
<path d="M439.60 362.50H515.10" stroke="#111" stroke-width="1.4" fill="none"/>
<path d="M440.10 363.70H514.60" stroke="#111" stroke-width="1.0" stroke-opacity="0.45" fill="none"/>
<path d="M441.80 360.80 C442.18 360.22 443.32 358.93 444.10 357.30 C444.88 355.67 445.70 353.23 446.50 351.00 C447.30 348.77 448.12 346.05 448.90 343.90 C449.68 341.75 450.50 339.40 451.20 338.10 C451.90 336.80 452.50 335.92 453.10 336.10 C453.70 336.28 454.28 337.23 454.80 339.20 C455.32 341.17 455.75 345.15 456.20 347.90 C456.65 350.65 457.02 353.62 457.50 355.70 C457.98 357.78 458.83 359.62 459.10 360.40" stroke="#111" stroke-width="1.0" fill="none" stroke-dasharray="1.4 1.7"/>
<path d="M440.80 361.60 C440.97 361.47 441.25 361.52 441.80 360.80 C442.35 360.08 443.32 358.93 444.10 357.30 C444.88 355.67 445.70 353.23 446.50 351.00 C447.30 348.77 448.12 346.05 448.90 343.90 C449.68 341.75 450.50 339.40 451.20 338.10 C451.90 336.80 452.50 335.92 453.10 336.10 C453.70 336.28 454.28 337.23 454.80 339.20 C455.32 341.17 455.75 345.15 456.20 347.90 C456.65 350.65 457.02 353.62 457.50 355.70 C457.98 357.78 458.45 359.40 459.10 360.40 C459.75 361.40 460.25 361.45 461.40 361.70 C462.55 361.95 465.23 361.87 466.00 361.90" stroke="#111" stroke-width="0.95" fill="none" stroke-linejoin="round"/>
<text transform="translate(434.30 307.60) rotate(-90)" text-anchor="middle" font-size="6.9" textLength="10.6" lengthAdjust="spacingAndGlyphs">200</text>
<text transform="translate(434.50 361.80) rotate(-90)" text-anchor="middle" font-size="6.9" textLength="3.5" lengthAdjust="spacingAndGlyphs">0</text>
<text transform="translate(427.40 336.10) rotate(-90)" text-anchor="middle" font-size="7.2" textLength="20.8" lengthAdjust="spacingAndGlyphs">Counts</text>
<text transform="translate(435.60 373.50) scale(0.87 1)" font-size="6.6">10<tspan dy="-3.6" font-size="6.5">0</tspan></text>
<text transform="translate(454.23 373.50) scale(0.87 1)" font-size="6.6">10<tspan dy="-3.6" font-size="6.5">1</tspan></text>
<text transform="translate(472.85 373.50) scale(0.87 1)" font-size="6.6">10<tspan dy="-3.6" font-size="6.5">2</tspan></text>
<text transform="translate(491.48 373.50) scale(0.87 1)" font-size="6.6">10<tspan dy="-3.6" font-size="6.5">3</tspan></text>
<text transform="translate(509.40 373.50) scale(0.87 1)" font-size="6.6">10<tspan dy="-3.6" font-size="6.5">4</tspan></text>
<text x="475.75" y="380.00" text-anchor="middle" font-size="6.6" textLength="31.5" lengthAdjust="spacingAndGlyphs">FL1-Height</text>
</g>
</svg>
</body></html>
